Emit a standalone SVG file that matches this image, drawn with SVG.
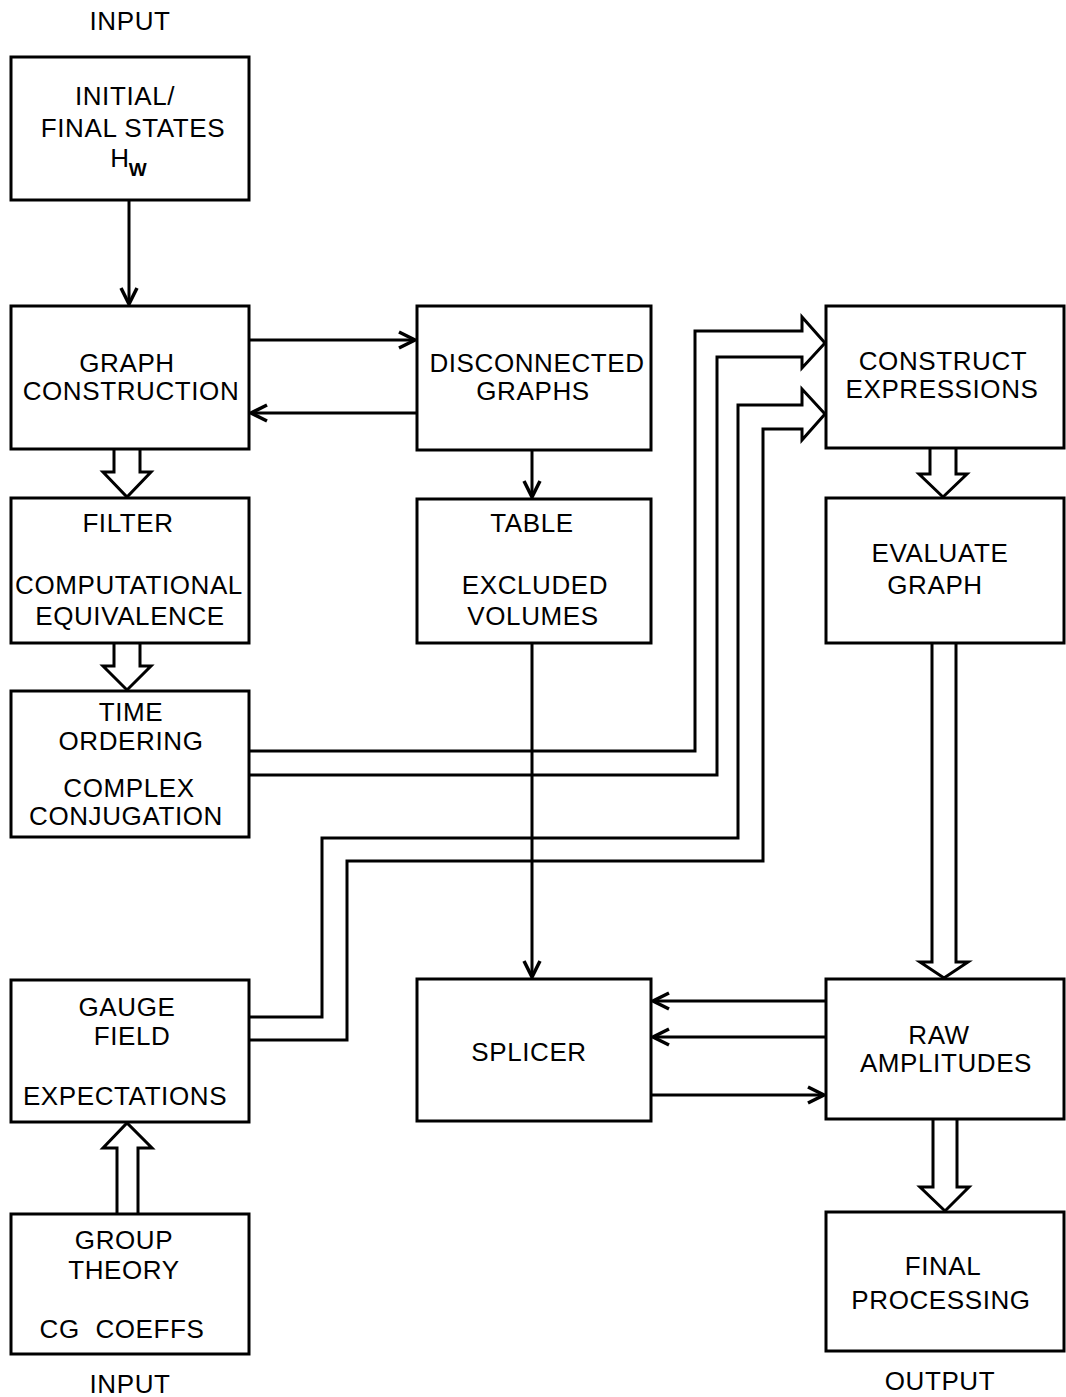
<svg xmlns="http://www.w3.org/2000/svg" width="1066" height="1397" viewBox="0 0 1066 1397">
<style>
.box{fill:#fff;stroke:#000;stroke-width:3}
.ln{fill:none;stroke:#000;stroke-width:3;stroke-linejoin:miter}
.blk{fill:#fff;stroke:#000;stroke-width:3;stroke-linejoin:miter}
text{font-family:"Liberation Sans",Arial,sans-serif;font-size:26px;letter-spacing:0.6px;text-anchor:middle;fill:#000}
.sub{font-size:19px;font-weight:bold}
</style>
<defs>
<marker id="ah" markerUnits="userSpaceOnUse" markerWidth="24" markerHeight="24" viewBox="-20 -12 24 24" refX="0" refY="0" orient="auto">
<path d="M-16,-8 L0,0 L-16,8" fill="none" stroke="#000" stroke-width="3.5"/>
</marker>
</defs>
<rect width="1066" height="1397" fill="#fff"/>
<g id="connectors">
<line class="ln" x1="129" y1="200" x2="129" y2="304" marker-end="url(#ah)"/>
<line class="ln" x1="249" y1="340" x2="415" y2="340" marker-end="url(#ah)"/>
<line class="ln" x1="417" y1="413" x2="251" y2="413" marker-end="url(#ah)"/>
<line class="ln" x1="532" y1="450" x2="532" y2="497" marker-end="url(#ah)"/>
<line class="ln" x1="532" y1="643" x2="532" y2="977" marker-end="url(#ah)"/>
<line class="ln" x1="826" y1="1001" x2="653" y2="1001" marker-end="url(#ah)"/>
<line class="ln" x1="826" y1="1037" x2="653" y2="1037" marker-end="url(#ah)"/>
<line class="ln" x1="651" y1="1095" x2="824" y2="1095" marker-end="url(#ah)"/>
<path class="blk" d="M114,449 V472 H103 L127,497 L151,472 H140 V449"/>
<path class="blk" d="M114,643 V666 H103 L127,690 L151,666 H140 V643"/>
<path class="blk" d="M117,1214 V1148 H103 L127,1123 L152,1148 H138 V1214"/>
<path class="blk" d="M930,448 V474 H919 L943,497 L967,474 H956 V448"/>
<path class="blk" d="M932,643 V962 H920 L944,978 L968,962 H956 V643"/>
<path class="blk" d="M933,1119 V1187 H920 L945,1211 L969,1187 H957 V1119"/>
<path class="ln" d="M249,751 H695 V331 H802 V317 L825,343 L802,368 V357 H717 V775 H249"/>
<path class="ln" d="M249,1017 H322 V838 H738 V405 H802 V389 L825,414 L802,440 V429 H763 V861 H347 V1040 H249"/>
</g>
<g id="n_initial">
<rect class="box" x="11" y="57" width="238" height="143"/>
<text x="125" y="105">INITIAL/</text>
<text x="133" y="137">FINAL STATES</text>
<text x="120" y="167">H</text>
<text class="sub" x="138" y="176">W</text>
</g>
<g id="n_graph">
<rect class="box" x="11" y="306" width="238" height="143"/>
<text x="127" y="372">GRAPH</text>
<text x="131" y="400">CONSTRUCTION</text>
</g>
<g id="n_disconnected">
<rect class="box" x="417" y="306" width="234" height="144"/>
<text x="537" y="372">DISCONNECTED</text>
<text x="533" y="400">GRAPHS</text>
</g>
<g id="n_construct">
<rect class="box" x="826" y="306" width="238" height="142"/>
<text x="943" y="370">CONSTRUCT</text>
<text x="942" y="398">EXPRESSIONS</text>
</g>
<g id="n_filter">
<rect class="box" x="11" y="498" width="238" height="145"/>
<text x="128" y="532">FILTER</text>
<text x="129" y="594">COMPUTATIONAL</text>
<text x="130" y="625">EQUIVALENCE</text>
</g>
<g id="n_table">
<rect class="box" x="417" y="499" width="234" height="144"/>
<text x="532" y="532">TABLE</text>
<text x="535" y="594">EXCLUDED</text>
<text x="533" y="625">VOLUMES</text>
</g>
<g id="n_evaluate">
<rect class="box" x="826" y="498" width="238" height="145"/>
<text x="940" y="562">EVALUATE</text>
<text x="935" y="594">GRAPH</text>
</g>
<g id="n_time">
<rect class="box" x="11" y="691" width="238" height="146"/>
<text x="131" y="721">TIME</text>
<text x="131" y="750">ORDERING</text>
<text x="129" y="797">COMPLEX</text>
<text x="126" y="825">CONJUGATION</text>
</g>
<g id="n_gauge">
<rect class="box" x="11" y="980" width="238" height="142"/>
<text x="127" y="1016">GAUGE</text>
<text x="132" y="1045">FIELD</text>
<text x="125" y="1105">EXPECTATIONS</text>
</g>
<g id="n_splicer">
<rect class="box" x="417" y="979" width="234" height="142"/>
<text x="529" y="1061">SPLICER</text>
</g>
<g id="n_raw">
<rect class="box" x="826" y="979" width="238" height="140"/>
<text x="939" y="1044">RAW</text>
<text x="946" y="1072">AMPLITUDES</text>
</g>
<g id="n_group">
<rect class="box" x="11" y="1214" width="238" height="140"/>
<text x="124" y="1249">GROUP</text>
<text x="124" y="1279">THEORY</text>
<text x="122" y="1338" xml:space="preserve">CG  COEFFS</text>
</g>
<g id="n_final">
<rect class="box" x="826" y="1212" width="238" height="139"/>
<text x="943" y="1275">FINAL</text>
<text x="941" y="1309">PROCESSING</text>
</g>
<g id="labels">
<text x="130" y="30">INPUT</text>
<text x="130" y="1393">INPUT</text>
<text x="940" y="1390">OUTPUT</text>
</g>
</svg>
